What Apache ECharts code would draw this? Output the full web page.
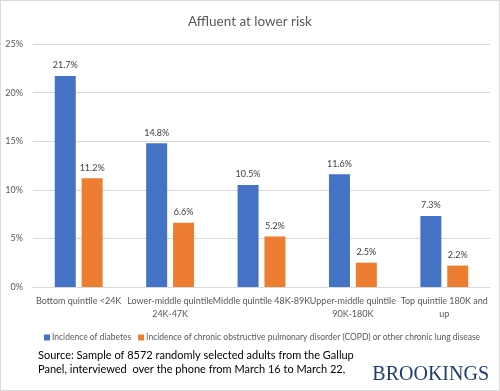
<!DOCTYPE html>
<html><head><meta charset="utf-8">
<script src="https://cdn.jsdelivr.net/npm/echarts@6/dist/echarts.min.js"></script>
<style>
html,body{margin:0;padding:0;background:#fff;}
#wrap{position:relative;width:500px;height:391px;box-sizing:border-box;border:1px solid #d9d9d9;}
#chart{position:absolute;left:0;top:0;width:498px;height:389px;}
</style></head><body>
<div id="wrap"><div id="chart"></div></div>
<script>
const categories = ['Bottom quintile <24K','Lower-middle quintile\n24K-47K','Middle quintile 48K-89K','Upper-middle quintile\n90K-180K','Top quintile 180K and\nup'];
const diabetes = [21.7, 14.8, 10.5, 11.6, 7.3];
const copd = [11.2, 6.6, 5.2, 2.5, 2.2];
const seriesNames = ['Incidence of diabetes','Incidence of chronic obstructive pulmonary disorder (COPD) or other chronic lung disease'];
const titleText = 'Affluent at lower risk';
const sourceLines = ['Source: Sample of 8572 randomly selected adults from the Gallup','Panel, interviewed  over the phone from March 16 to March 22,'];
const font = 'Lato, "Open Sans", sans-serif';
const chart = echarts.init(document.getElementById('chart'));
chart.setOption({
  animation:false,
  title:{text:titleText,left:'center',top:9,textStyle:{fontFamily:font,fontSize:13.5,fontWeight:'normal',color:'#595959'}},
  grid:{left:32,right:9,top:43,height:243,containLabel:false,outerBoundsMode:'none'},
  legend:{top:327,left:38,itemWidth:6,itemHeight:6,itemGap:7,icon:'rect',
    textStyle:{fontFamily:font,fontSize:8.5,color:'#595959',padding:[0,0,0,-3]},data:seriesNames},
  xAxis:{type:'category',data:categories,axisTick:{show:false},
    axisLine:{lineStyle:{color:'#d9d9d9'}},
    axisLabel:{interval:0,fontFamily:font,fontSize:9,color:'#595959',lineHeight:13,margin:8,overflow:'none'}},
  yAxis:{type:'value',min:0,max:25,interval:5,
    axisLabel:{formatter:'{value}%',fontFamily:font,fontSize:9,color:'#595959',margin:10},
    splitLine:{lineStyle:{color:'#d9d9d9'}}},
  series:[
    {name:seriesNames[0],type:'bar',data:diabetes,barWidth:21,barGap:'28%',itemStyle:{color:'#4472c4'},
     label:{show:true,position:'top',formatter:p=>p.value.toFixed(1)+'%',fontFamily:font,fontSize:9,color:'#404040',distance:6}},
    {name:seriesNames[1],type:'bar',data:copd,barWidth:21,itemStyle:{color:'#ed7d31'},
     label:{show:true,position:'top',formatter:p=>p.value.toFixed(1)+'%',fontFamily:font,fontSize:9,color:'#404040',distance:6}}
  ],
  graphic:[
    {type:'text',left:37,top:347,style:{text:sourceLines.join('\n'),fontFamily:font,fontSize:11,lineHeight:14.5,fill:'#000'}},
    {type:'text',right:10,top:364,style:{text:'BROOKINGS',fontFamily:'"Liberation Serif", "DejaVu Serif", serif',fontSize:20,fill:'#1f3f73'}}
  ]
});
</script></body></html>
